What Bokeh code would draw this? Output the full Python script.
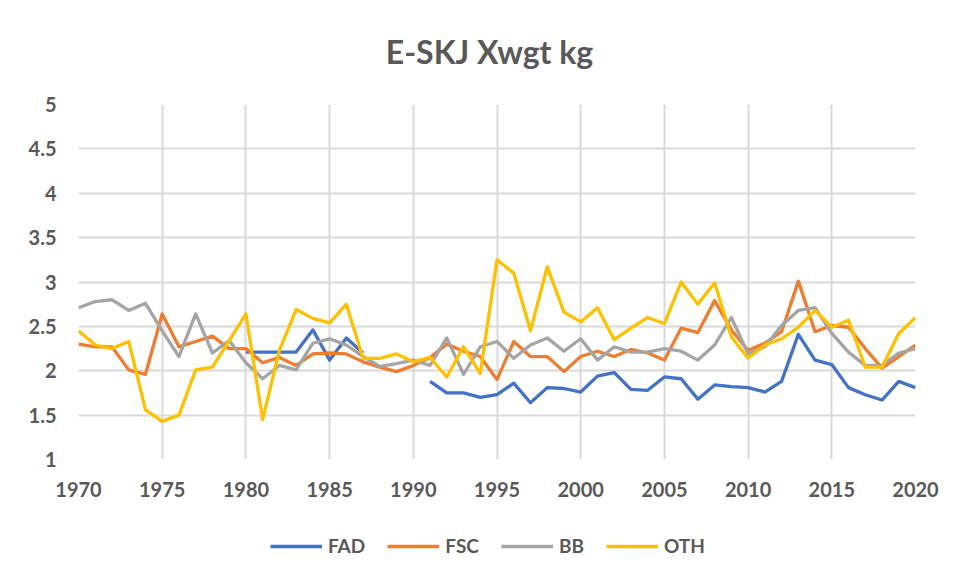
import numpy as np
from bokeh.plotting import figure
from bokeh.layouts import column
from bokeh.models import Legend, LegendItem, FixedTicker, Range1d, Label
from bokeh.embed import file_html
from bokeh.resources import INLINE

years = list(range(1970, 2021))

fad = [None] * 10 + [2.21, 2.21, 2.21, 2.21, 2.46, 2.12, 2.37, 2.20, None, None,
       None, 1.88, 1.75, 1.75, 1.70, 1.73, 1.86, 1.64, 1.81, 1.80,
       1.76, 1.94, 1.98, 1.79, 1.78, 1.93, 1.91, 1.68, 1.84, 1.82,
       1.81, 1.76, 1.88, 2.41, 2.12, 2.07, 1.81, 1.73, 1.67, 1.88, 1.81]

fsc = [2.30, 2.27, 2.27, 2.01, 1.96, 2.64, 2.27, 2.33, 2.39, 2.25,
       2.25, 2.09, 2.15, 2.06, 2.19, 2.20, 2.19, 2.10, 2.04, 1.99,
       2.06, 2.15, 2.30, 2.22, 2.16, 1.90, 2.33, 2.16, 2.16, 1.99,
       2.16, 2.22, 2.16, 2.24, 2.20, 2.12, 2.48, 2.43, 2.79, 2.46,
       2.23, 2.31, 2.44, 3.01, 2.44, 2.51, 2.49, 2.25, 2.03, 2.16, 2.29]

bb = [2.71, 2.78, 2.80, 2.68, 2.76, 2.45, 2.16, 2.64, 2.20, 2.34,
      2.09, 1.91, 2.06, 2.01, 2.31, 2.36, 2.29, 2.16, 2.05, 2.08,
      2.12, 2.06, 2.37, 1.96, 2.27, 2.33, 2.14, 2.29, 2.37, 2.22,
      2.36, 2.12, 2.27, 2.21, 2.21, 2.25, 2.22, 2.12, 2.29, 2.60,
      2.19, 2.27, 2.51, 2.68, 2.71, 2.42, 2.21, 2.06, 2.06, 2.20, 2.25]

oth = [2.45, 2.29, 2.25, 2.33, 1.56, 1.43, 1.50, 2.01, 2.04, 2.34,
       2.64, 1.45, 2.23, 2.69, 2.59, 2.54, 2.75, 2.14, 2.14, 2.19,
       2.10, 2.15, 1.93, 2.27, 1.97, 3.25, 3.10, 2.45, 3.17, 2.66,
       2.55, 2.71, 2.35, 2.48, 2.60, 2.53, 3.00, 2.75, 2.99, 2.38,
       2.14, 2.29, 2.36, 2.49, 2.68, 2.49, 2.57, 2.04, 2.04, 2.42, 2.60]

series_names = ["FAD", "FSC", "BB", "OTH"]
series_values = [fad, fsc, bb, oth]
colors = ["#4472C4", "#ED7D31", "#A5A5A5", "#FFC000"]

x_ticks = [1970, 1975, 1980, 1985, 1990, 1995, 2000, 2005, 2010, 2015, 2020]
y_ticks = [1, 1.5, 2, 2.5, 3, 3.5, 4, 4.5, 5]
y_tick_labels = ["1", "1.5", "2", "2.5", "3", "3.5", "4", "4.5", "5"]
title_text = "E-SKJ Xwgt kg"

TEXT = "#595959"
GRID = "#D9D9D9"
FONT = "Lato"


def strip(h):
    f = figure(width=940, height=h, output_backend="svg", toolbar_location=None,
               x_range=Range1d(0, 1), y_range=Range1d(0, 1),
               min_border=0, min_border_left=0, min_border_right=0,
               min_border_top=0, min_border_bottom=0)
    f.axis.visible = False
    f.grid.visible = False
    f.outline_line_color = None
    f.border_fill_color = "white"
    return f


# title strip
tf = strip(80)
tf.add_layout(Label(x=411, y=29, x_units="screen", y_units="screen", text=title_text,
                    text_align="center", text_baseline="alphabetic",
                    text_font=FONT, text_font_size="32px", text_font_style="bold",
                    text_color=TEXT))

# main chart
p = figure(width=940, height=440, output_backend="svg", toolbar_location=None,
           x_range=Range1d(1970, 2020), y_range=Range1d(1, 5),
           min_border_left=78, min_border_right=25, min_border_top=24, min_border_bottom=61)

p.outline_line_color = None
p.background_fill_color = "white"
p.border_fill_color = "white"

for ax in (p.xaxis, p.yaxis):
    ax.axis_line_color = None
    ax.major_tick_line_color = None
    ax.minor_tick_line_color = None
    ax.major_label_text_font = FONT
    ax.major_label_text_font_size = "20px"
    ax.major_label_text_font_style = "bold"
    ax.major_label_text_color = TEXT

p.xaxis.ticker = FixedTicker(ticks=x_ticks)
p.yaxis.ticker = FixedTicker(ticks=y_ticks)
p.yaxis.major_label_overrides = {t: l for t, l in zip(y_ticks, y_tick_labels)}
p.xaxis.major_label_standoff = 16
p.yaxis.major_label_standoff = 16

p.xgrid.grid_line_color = GRID
p.ygrid.grid_line_color = GRID
p.xgrid.grid_line_width = 2
p.ygrid.grid_line_width = 2

for name, vals, col in zip(series_names, series_values, colors):
    y = np.array([np.nan if v is None else v for v in vals], dtype=float)
    p.line(years, y, line_color=col, line_width=3.3, line_join="round")

# legend strip below the chart
lf = strip(45)
items = []
for name, col in zip(series_names, colors):
    r = lf.line([-5.0, -4.0], [-5.0, -5.0], line_color=col, line_width=3.3)
    items.append(LegendItem(label=name, renderers=[r]))

legend = Legend(items=items, orientation="horizontal", location=(192, 8),
                glyph_width=52, glyph_height=20, label_standoff=6, spacing=22,
                padding=0, margin=0, border_line_color=None, background_fill_alpha=0,
                label_text_font=FONT, label_text_font_size="19px",
                label_text_font_style="bold", label_text_color=TEXT)
lf.add_layout(legend, "center")

layout = column(tf, p, lf, spacing=0)
open("out.html", "w").write(file_html(layout, INLINE))
